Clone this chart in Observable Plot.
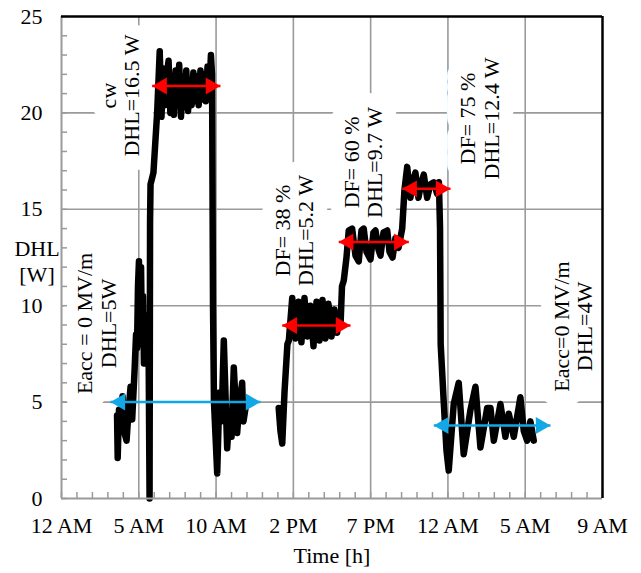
<!DOCTYPE html>
<html><head><meta charset="utf-8">
<script src="https://cdn.jsdelivr.net/npm/d3@7"></script>
<script src="https://cdn.jsdelivr.net/npm/@observablehq/plot@0.6"></script>
<style>html,body{margin:0;padding:0;background:#fff;} svg{display:block;}</style>
</head><body><div id="chart"></div>
<script>
// x axis: hours since midnight (one grid step = 4.8 h)
const xTicks = [0, 4.8, 9.6, 14.4, 19.2, 24, 28.8, 33.6];
const xTickLabels = ["12 AM", "5 AM", "10 AM", "2 PM", "7 PM", "12 AM", "5 AM", "9 AM"];
const yTicks = [0, 5, 10, 15, 20, 25];
const xMinor = d3.range(0, 33.61, 0.96);
const yMinor = d3.range(0, 25.01, 1);

// Segment A: morning (Eacc = 0, then cw operation, then off)
const morningTime = [3.45,3.49,3.57,3.66,3.79,3.91,4.04,4.16,4.29,4.39,4.53,4.63,4.69,4.75,4.81,4.88,4.94,5.00,5.06,5.12,5.22,5.31,5.40,5.47,5.50,5.53,5.71,5.94,
  6.10,6.21,6.32,6.43,6.54,6.65,6.76,6.87,6.98,7.09,7.20,7.31,7.42,7.53,7.64,7.75,7.86,7.97,8.08,8.19,8.30,8.41,8.52,8.63,8.74,8.85,8.96,9.07,9.18,9.28,
  9.35,9.41,9.47,9.67,9.81,9.94,10.08,10.29,10.43,10.56,10.70,10.91,11.05,11.22,11.30,11.43];
const morningDHL  = [4.3,2.1,4.6,3.6,5.3,3.4,3.0,4.5,5.8,4.1,6.5,8.5,7.8,11.0,12.3,9.0,12.0,8.0,10.5,7.0,9.5,8.0,9.0,0.0,14.4,16.3,16.9,20.0,
  23.2,19.8,22.3,20.4,22.0,22.7,20.0,21.8,19.9,22.2,20.6,22.5,19.8,21.9,20.3,22.2,20.1,21.7,20.4,22.1,20.6,21.9,20.4,22.2,20.7,22.0,20.6,22.4,21.0,23.0,
  22.0,10.0,5.0,1.3,5.5,4.0,8.2,2.6,4.5,3.2,6.8,3.4,5.0,6.0,4.0,4.7];

// Segment B: afternoon / night (DF = 38 %, 60 %, 75 %, then Eacc = 0)
const eveningTime = [13.49,13.60,13.71,13.85,14.03,14.12,14.33,14.53,14.72,14.90,15.09,15.28,15.46,15.65,15.84,16.02,16.21,16.39,16.58,16.77,16.95,17.12,17.20,17.33,17.42,17.53,17.70,17.84,18.05,18.26,18.46,18.63,18.77,18.94,19.19,19.38,19.50,19.69,19.81,20.00,20.23,20.37,20.56,20.74,20.93,21.16,21.30,21.47,21.55,21.67,21.83,21.98,22.17,22.36,22.50,22.71,22.91,23.12,23.33,23.44,23.51,23.55,23.74,23.91,24.05,24.36,24.67,24.98,25.40,25.71,26.02,26.44,26.64,26.85,27.26,27.57,27.78,28.09,28.50,28.71,28.92,29.12,29.33];
const eveningDHL  = [4.7,3.5,2.85,5.5,8.0,8.2,10.4,8.3,10.2,8.1,10.4,8.4,10.0,7.9,10.2,8.2,10.3,8.3,10.1,8.4,9.8,8.6,9.5,9.0,11.0,11.3,12.5,13.9,14.0,12.6,12.3,13.9,14.0,12.8,12.4,13.8,13.9,12.9,12.6,13.8,13.9,12.8,12.5,13.5,13.0,14.0,16.0,17.2,16.5,15.6,16.5,16.9,15.6,16.4,16.8,15.6,16.3,16.4,15.8,16.4,14.0,8.0,5.0,2.5,1.45,4.9,6.0,2.3,4.6,5.8,2.65,4.7,4.7,3.0,4.9,3.2,4.4,3.2,5.25,3.5,3.0,4.0,3.0];

// Average-level arrows
const arrowStart = [3.04, 5.63, 13.71, 17.22, 21.16, 23.12];
const arrowEnd   = [12.36, 9.87, 17.95, 21.57, 24.16, 30.37];
const arrowLevel = [5.0, 21.4, 8.97, 13.3, 16.06, 3.79];
const arrowKind  = ["off", "rf", "rf", "rf", "rf", "off"];

// Annotations
const labelText = ["Eacc = 0 MV/m\nDHL=5W", "cw\nDHL=16.5 W", "DF= 38 %\nDHL=5.2 W", "DF= 60 %\nDHL=9.7 W", "DF= 75 %\nDHL=12.4 W", "Eacc=0 MV/m\nDHL=4W"];
const labelTime = [2.15, 3.63, 14.44, 18.72, 25.96, 31.76];
const labelDHL  = [9.08, 20.9, 13.9, 17.43, 19.71, 8.92];

const trace = [
  ...morningTime.map((h, i) => ({h, v: morningDHL[i], seg: "A"})),
  ...eveningTime.map((h, i) => ({h, v: eveningDHL[i], seg: "B"}))
];
const arrows = arrowStart.map((s, i) => ({s, e: arrowEnd[i], y: arrowLevel[i], kind: arrowKind[i]}));
const labels = labelText.map((t, i) => ({t, x: labelTime[i], y: labelDHL[i]}));

const RED = "#ff0000", BLUE = "#12a8e6", GRID = "#9a9a9a";
const col = d => d.kind === "off" ? BLUE : RED;
const FONT = "Liberation Serif";

const chart = Plot.plot({
  width: 641, height: 573,
  marginLeft: 61, marginRight: 39, marginTop: 16, marginBottom: 75,
  style: {fontFamily: FONT, fontSize: "22px", background: "white", color: "black"},
  x: {domain: [0, 33.6]},
  y: {domain: [0, 25]},
  marks: [
    Plot.gridX(xTicks.slice(1, -1), {stroke: GRID, strokeOpacity: 1, strokeWidth: 1.6}),
    Plot.gridY(yTicks.slice(1, -1), {stroke: GRID, strokeOpacity: 1, strokeWidth: 1.6}),
    Plot.text(labels, {x: "x", y: "y", text: "t", rotate: -90, fontSize: 22, lineHeight: 1.08,
      fill: "white", stroke: "white", strokeWidth: 28, strokeLinejoin: "round"}),
    Plot.line(trace, {x: "h", y: "v", z: "seg", stroke: "black", strokeWidth: 6.5, strokeLinejoin: "round", strokeLinecap: "round"}),
    Plot.ruleX(xMinor, {x: d => d, stroke: GRID, strokeWidth: 1.5, insetTop: 476}),
    Plot.ruleY(yMinor, {y: d => d, stroke: GRID, strokeWidth: 1.5, insetRight: 535}),
    Plot.ruleX([0], {stroke: GRID, strokeWidth: 2}),
    Plot.ruleY([0], {stroke: GRID, strokeWidth: 2}),
    Plot.ruleY([25], {stroke: "black", strokeWidth: 2.5}),
    Plot.ruleX([33.6], {stroke: "black", strokeWidth: 2.5}),
    Plot.link(arrows, {x1: "s", x2: "e", y1: "y", y2: "y", stroke: col, strokeWidth: 2.5}),
    Plot.dot(arrows, {x: "s", y: "y", symbol: "triangle", r: 6.3, rotate: -90, dx: 9.8, fill: col, stroke: "none"}),
    Plot.dot(arrows, {x: "e", y: "y", symbol: "triangle", r: 6.3, rotate: 90, dx: -9.8, fill: col, stroke: "none"}),
    Plot.text(labels, {x: "x", y: "y", text: "t", rotate: -90, fontSize: 22, lineHeight: 1.08, fill: "black"}),
    Plot.axisX(xTicks, {tickSize: 0, tickPadding: 19, tickFormat: (d, i) => xTickLabels[i], fontSize: 22, label: null}),
    Plot.axisY(yTicks, {tickSize: 0, tickPadding: 19, fontSize: 22, label: null}),
    Plot.text(["DHL\n[W]"], {frameAnchor: "left", text: d => d, dx: -24.5, dy: 3, lineHeight: 1.2, fontSize: 22, textAnchor: "middle"}),
    Plot.text(["Time [h]"], {frameAnchor: "bottom", text: d => d, dy: 64, fontSize: 22})
  ]
});
document.getElementById("chart").append(chart);
</script></body></html>
